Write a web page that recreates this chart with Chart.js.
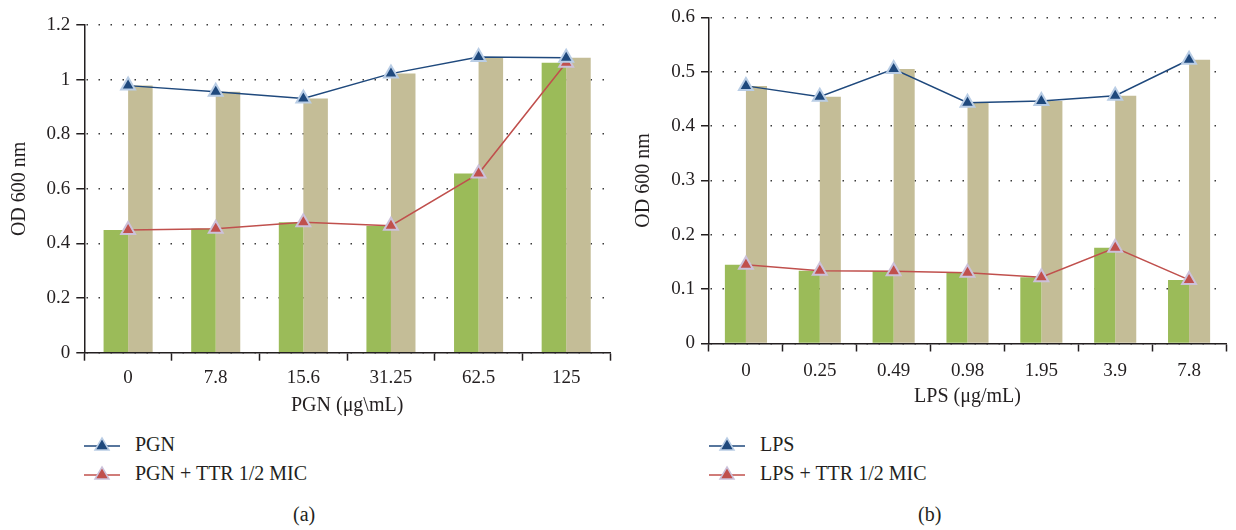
<!DOCTYPE html>
<html>
<head>
<meta charset="utf-8">
<script src="https://cdn.jsdelivr.net/npm/chart.js@4.4.0/dist/chart.umd.min.js"></script>
<style>
  body { margin: 0; width: 1236px; height: 530px; overflow: hidden; background: #fff;
         font-family: "Liberation Serif", serif; color: #231f20; position: relative; }
  .box { position: absolute; top: 0; }
  .legend { position: absolute; top: 430px; font-size: 20px; }
  .legend .row { display: flex; align-items: center; height: 29px; }
  .legend svg { margin-right: 15px; }
  .caption { position: absolute; top: 503px; font-size: 20px; }
</style>
</head>
<body>
<div class="box" style="left:0;width:620px;height:420px"><canvas id="chartA"></canvas></div>
<div class="box" style="left:620px;width:616px;height:411px"><canvas id="chartB"></canvas></div>
<div class="legend" id="legendA" style="left:84px"></div>
<div class="legend" id="legendB" style="left:709px"></div>
<div class="caption" style="left:293px">(a)</div>
<div class="caption" style="left:918px">(b)</div>
<script>
// panel (a): PGN
const pgnDoses = ['0', '7.8', '15.6', '31.25', '62.5', '125'];
const pgnAlone = [0.978, 0.956, 0.931, 1.022, 1.083, 1.080];
const pgnTtr = [0.449, 0.454, 0.478, 0.465, 0.656, 1.062];

// panel (b): LPS
const lpsDoses = ['0', '0.25', '0.49', '0.98', '1.95', '3.9', '7.8'];
const lpsAlone = [0.474, 0.454, 0.505, 0.443, 0.446, 0.456, 0.522];
const lpsTtr = [0.145, 0.134, 0.133, 0.130, 0.122, 0.176, 0.117];

const GREEN = '#9bbb59', TAN = '#c4bd97', NAVY = '#1f497d', RED = '#c0504d';
const FONT = "'Liberation Serif'";
const INK = '#231f20';

function buildChart(id, labels, alone, ttr, name, cfg) {
    const lines = [
        { type: 'line', label: name, data: alone, borderColor: NAVY, borderWidth: 1.5,
          pointStyle: 'triangle', pointRadius: 8, pointBackgroundColor: NAVY,
          pointBorderColor: '#b9cde5', pointBorderWidth: 2, order: 0 },
        { type: 'line', label: name + ' + TTR 1/2 MIC', data: ttr, borderColor: RED, borderWidth: 1.5,
          pointStyle: 'triangle', pointRadius: 8, pointBackgroundColor: RED,
          pointBorderColor: '#ccc1da', pointBorderWidth: 2, order: 0 }
    ];
    new Chart(document.getElementById(id), {
        type: 'bar',
        data: {
            labels: labels,
            datasets: [
                { label: 'ttr bars', data: ttr, backgroundColor: GREEN, order: 1,
                  barPercentage: 1, categoryPercentage: cfg.catPct },
                { label: 'alone bars', data: alone, backgroundColor: TAN, order: 1,
                  barPercentage: 1, categoryPercentage: cfg.catPct },
                ...lines
            ]
        },
        options: {
            responsive: true,
            maintainAspectRatio: false,
            animation: false,
            layout: { padding: { top: cfg.top, right: cfg.right, left: 0, bottom: 0 } },
            plugins: { legend: { display: false }, tooltip: { enabled: false } },
            scales: {
                x: {
                    grid: { drawOnChartArea: false, drawTicks: true, tickLength: 8, color: INK, tickWidth: 1.5 },
                    border: { color: INK, width: 1.5 },
                    ticks: { color: INK, font: { family: FONT, size: 19 }, padding: cfg.xPad },
                    title: { display: true, text: name + cfg.unit, color: INK,
                             font: { family: FONT, size: 20 }, padding: { top: 0, bottom: 2 } },
                    afterFit: s => { s.height = cfg.xHeight; }
                },
                y: {
                    min: 0, max: cfg.max,
                    grid: { color: '#3a3a3a', lineWidth: 1.5, tickLength: 8, tickColor: INK,
                            tickWidth: 1.5, tickBorderDash: [] },
                    border: { color: INK, width: 1.5, dash: [1.5, 10.5], dashOffset: -1 },
                    ticks: { stepSize: cfg.step, color: INK, font: { family: FONT, size: 19 }, padding: 6,
                             callback: v => String(Number(v.toFixed(2))) },
                    title: { display: true, text: 'OD 600 nm', color: INK,
                             font: { family: FONT, size: 20 }, padding: { top: cfg.yTitlePad, bottom: 0 } },
                    afterFit: s => { s.width = cfg.yWidth; }
                }
            }
        }
    });
    return lines;
}

function drawLegend(id, lines) {
    const el = document.getElementById(id);
    lines.forEach(ds => {
        const row = document.createElement('div');
        row.className = 'row';
        row.innerHTML =
            '<svg width="36" height="18"><line x1="0" y1="10" x2="36" y2="10" stroke="' + ds.borderColor +
            '" stroke-width="1.5"/><polygon points="18,2 25,14 11,14" fill="' + ds.pointBackgroundColor +
            '" stroke="' + ds.pointBorderColor + '" stroke-width="1.5"/></svg><span>' + ds.label + '</span>';
        el.appendChild(row);
    });
}

function start() {
    const linesA = buildChart('chartA', pgnDoses, pgnAlone, pgnTtr, 'PGN', {
        max: 1.2, step: 0.2, top: 25, right: 7.5, yWidth: 84.3, xHeight: 67.3, xPad: 6,
        catPct: 0.56, unit: ' (\u03bcg\\mL)', yTitlePad: 8
    });
    const linesB = buildChart('chartB', lpsDoses, lpsAlone, lpsTtr, 'LPS', {
        max: 0.6, step: 0.1, top: 16.5, right: 3, yWidth: 89, xHeight: 67.5, xPad: 8,
        catPct: 0.57, unit: ' (\u03bcg/mL)', yTitlePad: 12
    });
    drawLegend('legendA', linesA);
    drawLegend('legendB', linesB);
}

Promise.all([
    document.fonts.load("19px 'Liberation Serif'"),
    document.fonts.load("20px 'Liberation Serif'")
]).then(start, start);
</script>
</body>
</html>
